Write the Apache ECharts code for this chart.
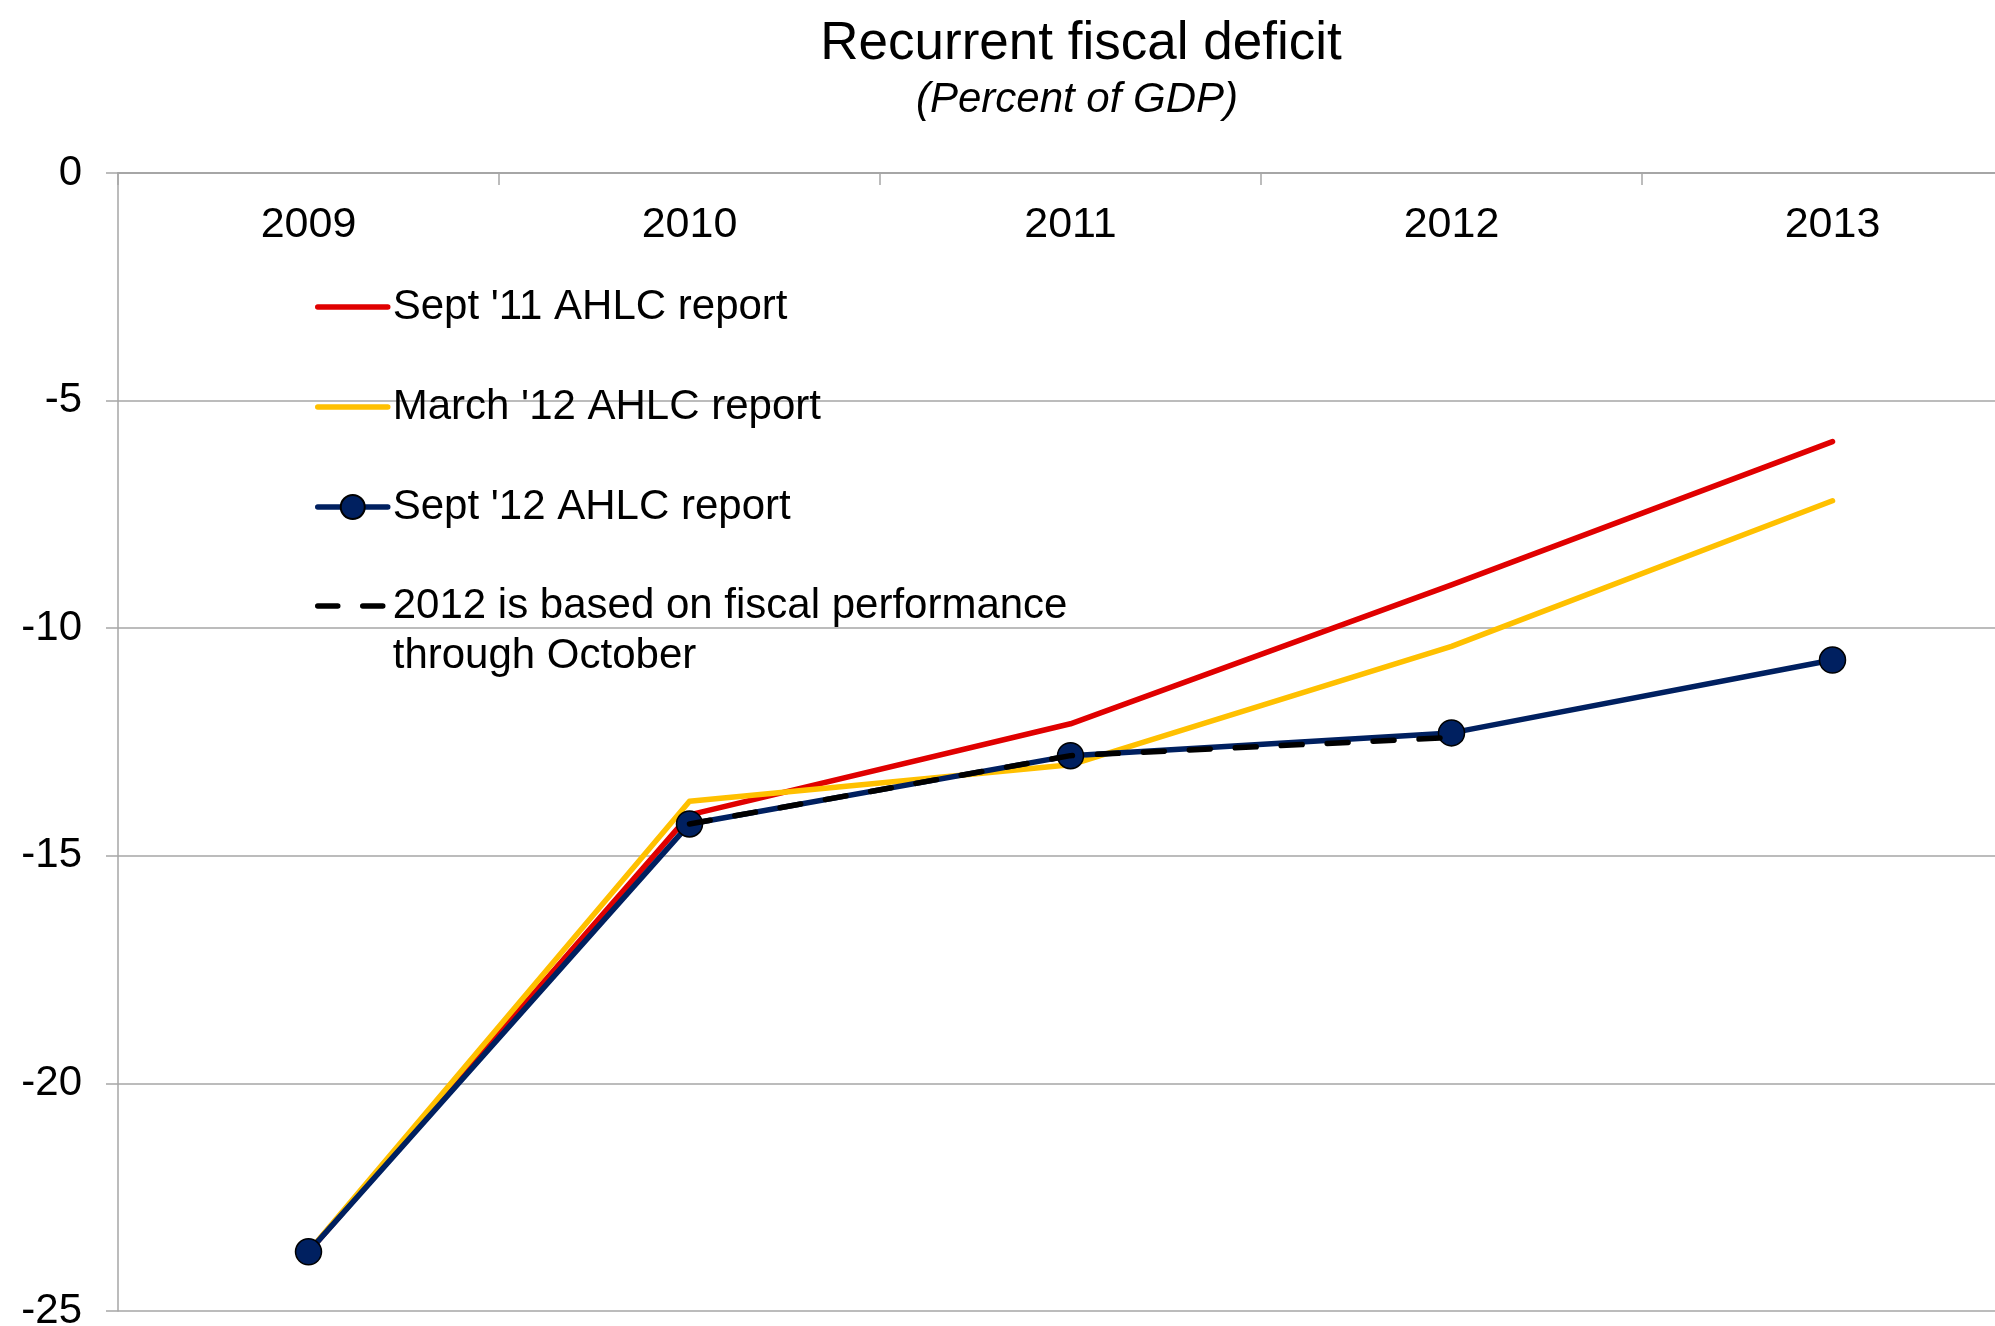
<!DOCTYPE html>
<html>
<head>
<meta charset="utf-8">
<title>Recurrent fiscal deficit</title>
<script src="https://cdn.jsdelivr.net/npm/echarts@6/dist/echarts.min.js"></script>
<style>
  html, body { margin: 0; padding: 0; background: #ffffff; }
  #chart { width: 1995px; height: 1326px; }
</style>
</head>
<body>
<div id="chart"></div>
<script>
// Recurrent fiscal deficit, percent of GDP, by AHLC report vintage
const years = ['2009', '2010', '2011', '2012', '2013'];
const sept11 = [-23.7, -14.1, -12.1, -9.05, -5.9];
const march12 = [-23.7, -13.8, -13.0, -10.4, -7.2];
const sept12 = [-23.7, -14.3, -12.8, -12.3, -10.7];
// 2012 estimate built on fiscal outturn through October
const octBased = [null, -14.3, -12.8, -12.4, null];
const yTicks = { min: -25, max: 0, step: 5 };

const FONT = '"Liberation Sans", Arial, Helvetica, sans-serif';
const GRID_GRAY = '#a6a6a6';
const LINE_W = 5.5;

const names = {
  sept11: "Sept '11 AHLC report",
  march12: "March '12 AHLC report",
  sept12: "Sept '12 AHLC report",
  oct: '2012 is based on fiscal performance\nthrough October'
};

const chart = echarts.init(document.getElementById('chart'), null, { renderer: 'canvas' });

chart.setOption({
  animation: false,
  backgroundColor: '#ffffff',
  textStyle: { fontFamily: FONT },
  graphic: [
    {
      type: 'text', x: 1081, y: 44,
      style: { text: 'Recurrent fiscal deficit', font: '53px ' + FONT, fill: '#000',
               align: 'center', verticalAlign: 'middle' }
    },
    {
      type: 'text', x: 1077, y: 100,
      style: { text: '(Percent of GDP)', font: 'italic 42px ' + FONT, fill: '#000',
               align: 'center', verticalAlign: 'middle' }
    }
  ],
  grid: { left: 118, width: 1905, top: 173, bottom: 15, containLabel: false, outerBoundsMode: 'none' },
  legend: [
    {
      orient: 'vertical', left: 315, top: 282, padding: 0,
      itemWidth: 70, itemHeight: 30, itemGap: 50,
      lineStyle: { width: LINE_W, cap: 'round' },
      data: [
        { name: names.sept11, itemStyle: { opacity: 0 } },
        { name: names.march12, itemStyle: { opacity: 0 } },
        { name: names.sept12 }
      ],
      textStyle: { fontSize: 42, lineHeight: 50, color: '#000', fontFamily: FONT },
      selectedMode: false
    },
    {
      orient: 'vertical', left: 315, top: 531, padding: 0,
      itemWidth: 70, itemHeight: 30,
      lineStyle: { width: LINE_W, cap: 'round', type: [20, 25] },
      data: [{ name: names.oct, itemStyle: { opacity: 0 } }],
      // a blank leading line keeps the first text line level with the icon
      formatter: function (n) { return ' \n' + n; },
      textStyle: { fontSize: 42, lineHeight: 50, color: '#000', fontFamily: FONT },
      selectedMode: false
    }
  ],
  xAxis: {
    type: 'category',
    data: years,
    position: 'top',
    boundaryGap: true,
    axisLine: { show: true, onZero: false, lineStyle: { color: GRID_GRAY, width: 2 } },
    axisTick: { show: true, inside: true, length: 12, lineStyle: { color: GRID_GRAY, width: 1.5 } },
    axisLabel: { inside: true, margin: 31, fontSize: 43, color: '#000', fontFamily: FONT },
    splitLine: { show: false }
  },
  yAxis: {
    type: 'value',
    min: yTicks.min, max: yTicks.max, interval: yTicks.step,
    axisLine: { show: true, lineStyle: { color: GRID_GRAY, width: 1.5 } },
    axisTick: { show: true, length: 12, lineStyle: { color: GRID_GRAY, width: 1.5 } },
    axisLabel: { margin: 36, fontSize: 42, color: '#000', fontFamily: FONT },
    splitLine: { show: true, lineStyle: { color: GRID_GRAY, width: 1.5 } }
  },
  series: [
    {
      name: names.sept11, type: 'line', data: sept11,
      symbol: 'none', z: 2,
      lineStyle: { color: '#e00000', width: LINE_W, cap: 'round', join: 'round' },
      itemStyle: { color: '#e00000' }
    },
    {
      name: names.march12, type: 'line', data: march12,
      symbol: 'none', z: 3,
      lineStyle: { color: '#ffc000', width: LINE_W, cap: 'round', join: 'round' },
      itemStyle: { color: '#ffc000' }
    },
    {
      name: names.sept12, type: 'line', data: sept12,
      symbol: 'circle', symbolSize: 26, showSymbol: true, z: 4,
      lineStyle: { color: '#002060', width: LINE_W, cap: 'round', join: 'round' },
      itemStyle: { color: '#002060', borderColor: '#000000', borderWidth: 1.5 }
    },
    {
      name: names.oct, type: 'line', data: octBased,
      symbol: 'none', z: 5, connectNulls: false,
      lineStyle: { color: '#000000', width: LINE_W, type: [21, 25], cap: 'round' },
      itemStyle: { color: '#000000' }
    }
  ]
});
</script>
</body>
</html>
